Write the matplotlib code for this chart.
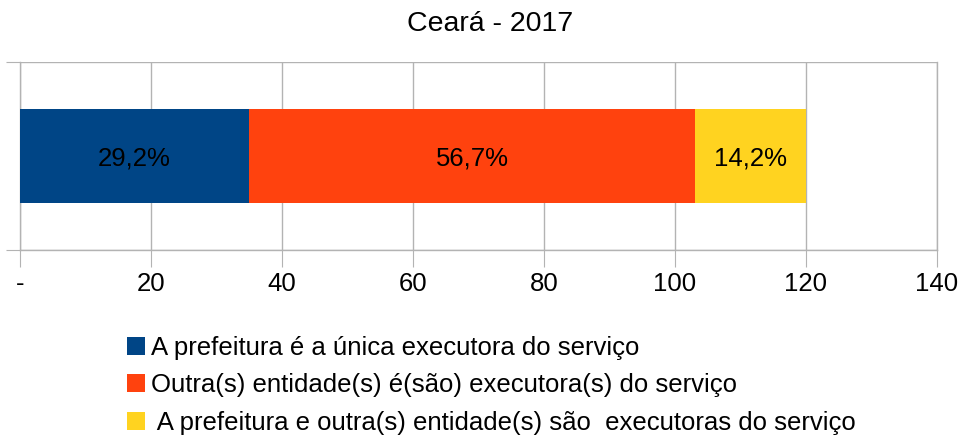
import matplotlib
matplotlib.use("Agg")
import matplotlib.pyplot as plt
from matplotlib.patches import Patch

plt.rcParams['font.family'] = ['Liberation Sans', 'DejaVu Sans']

title = "Ceará - 2017"
series_names = [
    "A prefeitura é a única executora do serviço",
    "Outra(s) entidade(s) é(são) executora(s) do serviço",
    " A prefeitura e outra(s) entidade(s) são  executoras do serviço",
]
values = [35, 68, 17]
labels = ["29,2%", "56,7%", "14,2%"]
colors = ["#004586", "#ff420e", "#ffd320"]
xticks = [0, 20, 40, 60, 80, 100, 120, 140]
xticklabels = ["-", "20", "40", "60", "80", "100", "120", "140"]

fig = plt.figure(figsize=(9.66, 4.36), dpi=100)
ax = fig.add_axes([20/966, 1-250/436, 917/966, 188/436])

left = 0
for v, lab, c in zip(values, labels, colors):
    ax.barh(0, v, left=left, height=0.505, color=c, zorder=3)
    ax.text(left + v/2, -0.015, lab, ha='center', va='center', fontsize=18.5, color='black', zorder=4)
    left += v

ax.set_xlim(0, 140)
ax.set_ylim(-0.5, 0.5)
ax.set_xticks(xticks)
ax.set_xticklabels(xticklabels, fontsize=18.5)
ax.set_yticks([-0.5, 0.5])
ax.set_yticklabels([])
ax.grid(axis='x', color='#b3b3b3', linewidth=1, zorder=0)
ax.grid(axis='y', color='#b3b3b3', linewidth=1, zorder=0)
for s in ax.spines.values():
    s.set_color('#b3b3b3')
    s.set_linewidth(1)
ax.spines['top'].set_visible(False)
ax.tick_params(axis='x', length=12, color='#b3b3b3', pad=4, labelcolor='black')
ax.tick_params(axis='y', length=10, color='#b3b3b3')

fig.text(490/966, 1-24/436, title, ha='center', va='center', fontsize=20.5)

handles = [Patch(facecolor=c, edgecolor='none') for c in colors]
leg = fig.legend(handles, series_names, loc='upper left', bbox_to_anchor=(127/966, 1-336/436),
                 frameon=False, fontsize=18.5, handlelength=0.7, handleheight=0.7,
                 handletextpad=0.25, labelspacing=0.52, borderaxespad=0, borderpad=0)

fig.savefig("out.png", dpi=100)
